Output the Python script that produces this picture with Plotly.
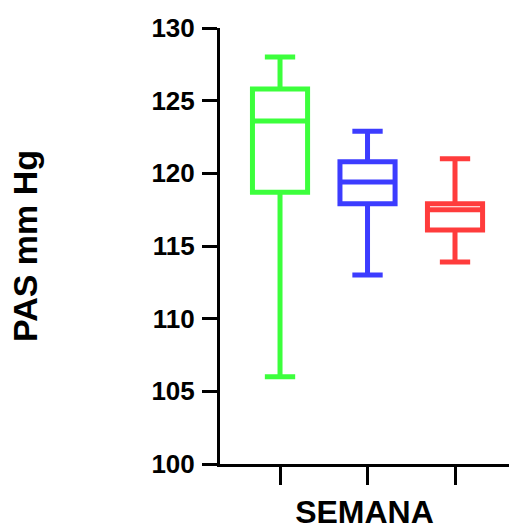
import plotly.graph_objects as go

# Data (PAS mm Hg)
groups = ["G1", "G2", "G3"]
colors = ["rgb(60,255,60)", "rgb(60,60,255)", "rgb(255,60,60)"]
lower_whisker = [106.0, 113.0, 113.9]
q1_values = [118.7, 117.9, 116.1]
medians = [123.6, 119.4, 117.5]
q3_values = [125.8, 120.8, 117.9]
upper_whisker = [128.0, 122.9, 121.0]

y_ticks = [100, 105, 110, 115, 120, 125, 130]

FONT = "Liberation Sans, Arial, sans-serif"

fig = go.Figure()
for i, g in enumerate(groups):
    fig.add_trace(go.Box(
        x=[g],
        q1=[q1_values[i]],
        median=[medians[i]],
        q3=[q3_values[i]],
        lowerfence=[lower_whisker[i]],
        upperfence=[upper_whisker[i]],
        name=g,
        boxpoints=False,
        width=0.63,
        whiskerwidth=0.55,
        line=dict(color=colors[i], width=5),
        fillcolor="rgba(0,0,0,0)",
        hoverinfo="skip",
    ))

fig.update_layout(
    width=509,
    height=531,
    margin=dict(l=220, r=0, t=28, b=67),
    paper_bgcolor="white",
    plot_bgcolor="white",
    showlegend=False,
    font=dict(family=FONT, color="black"),
)

fig.update_xaxes(
    type="category",
    categoryorder="array",
    categoryarray=groups,
    range=[-0.686, 2.617],
    showgrid=False,
    zeroline=False,
    showline=True,
    linecolor="black",
    linewidth=3,
    ticks="outside",
    ticklen=18,
    tickwidth=3,
    tickcolor="black",
    showticklabels=False,
    title=dict(text="<b>SEMANA</b>", font=dict(size=32, family=FONT), standoff=17),
)

fig.update_yaxes(
    range=[100, 130],
    tickvals=y_ticks,
    ticktext=[f"<b>{v}</b>" for v in y_ticks],
    showgrid=False,
    zeroline=False,
    showline=True,
    linecolor="black",
    linewidth=3,
    ticks="outside",
    ticklen=15,
    tickwidth=3,
    tickcolor="black",
    tickfont=dict(size=26, family=FONT),
    ticklabelstandoff=2,
    title=dict(text="<b>PAS mm Hg</b>", font=dict(size=34, family=FONT), standoff=104),
)

fig.write_html("out.html")
